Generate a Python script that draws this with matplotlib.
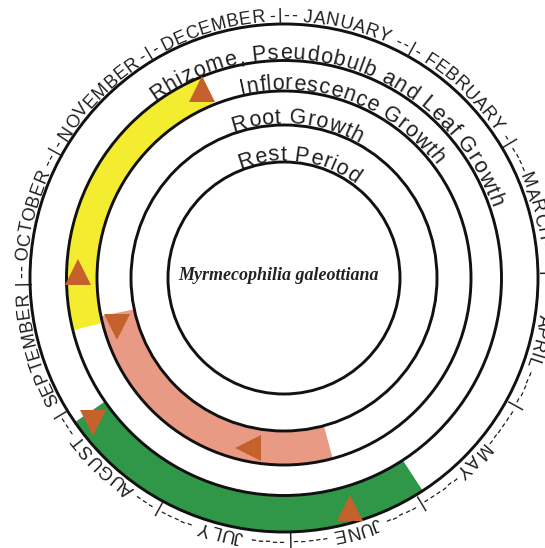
import numpy as np
import matplotlib
matplotlib.use('Agg')
import matplotlib.pyplot as plt
from matplotlib.patches import Circle, Wedge
from matplotlib.font_manager import FontProperties, findfont, get_font

# ---------------- data ----------------
months = ['JANUARY', 'FEBRUARY', 'MARCH', 'APRIL', 'MAY', 'JUNE', 'JULY',
          'AUGUST', 'SEPTEMBER', 'OCTOBER', 'NOVEMBER', 'DECEMBER']
phases = ['Rest Period', 'Root Growth', 'Inflorescence Growth',
          'Rhizome, Pseudobulb and Leaf Growth']
species = 'Myrmecophilia galeottiana'
# active periods, in months counted from 1 January (0 = start of January)
phase_start = [None, 5.53, 8.57, 4.93]
phase_end = [None, 8.64, 11.30, 7.88]
phase_colors = [None, '#e99a84', '#f4ec2e', '#2f9747']
# triangle marks: ring index, month position, shape
mark_phase = [2, 2, 1, 1, 3, 3]
mark_month = [9.09, 11.25, 8.49, 6.43, 7.79, 5.50]
mark_shape = ['^', '^', 'v', '<', 'v', '^']

# ---------------- layout ----------------
W, H = 545, 548
CX, CY = 284, 278
radii = [116, 153, 187, 217.5, 254]
OFFSET = -1.0           # clock angle (deg) of 1 January


def month_angle(m):
    return OFFSET + 30.0 * m


fig = plt.figure(figsize=(W / 100, H / 100), dpi=100)
ax = fig.add_axes([0, 0, 1, 1])
ax.set_xlim(0, W)
ax.set_ylim(H, 0)
ax.set_aspect('equal')
ax.axis('off')


def pt(theta, r):
    t = np.radians(theta)
    return CX + r * np.sin(t), CY - r * np.cos(t)


def advances(s, fp):
    size = fp.get_size_in_points()
    try:
        font = get_font(findfont(fp))
        font.set_size(size, 72)
        out = []
        for c in s:
            g = font.load_char(ord(c))
            out.append(g.linearHoriAdvance / 65536.0)
        a = np.array(out)
        if not np.all(np.isfinite(a)) or a.sum() <= 0:
            raise ValueError
    except Exception:
        a = np.array([0.3 if c == ' ' else 0.55 for c in s]) * size
    return a * 100.0 / 72.0


def arc_text(s, theta_c, r, fp, span=None, stretch=1.0, color='#1e1e1e',
             zorder=5):
    adv = advances(s, fp)
    total = adv.sum()
    scale = stretch if span is None else np.radians(span) * r / total
    pos = (np.cumsum(adv) - adv / 2 - total / 2) * scale
    for c, p in zip(s, pos):
        if c == ' ':
            continue
        th = theta_c + np.degrees(p / r)
        x, y = pt(th, r)
        ax.text(x, y, c, rotation=-th, rotation_mode='anchor', ha='center',
                va='baseline', fontproperties=fp, color=color, zorder=zorder)
    return np.degrees(total * scale / 2 / r)


# coloured bands
for i in range(len(phases)):
    if phase_start[i] is None:
        continue
    r_in, r_out = radii[i], radii[i + 1]
    w = Wedge((CX, CY), r_out, month_angle(phase_start[i]) - 90,
              month_angle(phase_end[i]) - 90, width=r_out - r_in,
              facecolor=phase_colors[i], edgecolor='none', zorder=1)
    ax.add_patch(w)

# circles
for r in radii:
    ax.add_patch(Circle((CX, CY), r, fill=False, edgecolor='#111111',
                        lw=2.1, zorder=2))

# triangle marks
for ph, m, shp in zip(mark_phase, mark_month, mark_shape):
    rm = (radii[ph] + radii[ph + 1]) / 2 + 4
    x, y = pt(month_angle(m), rm)
    ax.plot([x], [y], marker=shp, ms=19, color='#c4612c', mew=0, zorder=3)

# phase labels
fpl = FontProperties(family='Liberation Sans', size=15.5)
label_center = [7.5, 5.0, 20.2, 17.6]
label_span = [59.5, 48.6, 66.7, 107.8]
for i, lab in enumerate(phases):
    arc_text(lab, label_center[i], radii[i] + 1.5, fpl, span=label_span[i])

# month ring
fpm = FontProperties(family='Liberation Sans', size=13)
R_M = 257
halves = []
for i, name in enumerate(months):
    halves.append(arc_text(name, month_angle(i + 0.5), R_M, fpm,
                           stretch=1.04))
d_deg = np.degrees(7.0 / R_M)
for i in range(12):
    j = (i + 1) % 12
    start = month_angle(i + 0.5) + halves[i]
    end = month_angle(i + 1.5) - halves[j]
    b = month_angle(i + 1)
    arc_text('|', b, R_M, fpm)
    k = 1
    while True:
        placed = False
        for th in (b - k * d_deg, b + k * d_deg):
            if start + 1.0 < th < end - 1.0:
                arc_text('-', th, R_M, fpm)
                placed = True
        if not placed:
            break
        k += 1

# species name
ax.text(278, 275, species, family='Liberation Serif', fontweight='bold',
        fontstyle='italic', fontsize=13, ha='center', va='center',
        color='#222222', zorder=5)

fig.savefig('out.png', dpi=100, facecolor='white')
